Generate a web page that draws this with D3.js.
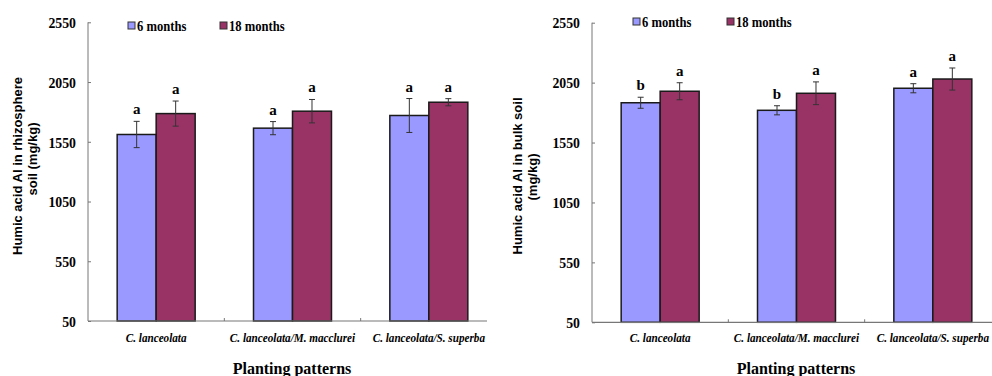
<!DOCTYPE html>
<html>
<head>
<meta charset="utf-8">
<script src="https://cdn.jsdelivr.net/npm/d3@7"></script>
<style>
  body { margin: 0; background: #fff; }
  svg { display: block; }
  .serif { font-family: "Liberation Serif", "Times New Roman", serif; }
  .sans { font-family: "Liberation Sans", Arial, sans-serif; }
</style>
</head>
<body>
<script>
// planting patterns on the x axis
var patterns = ["C. lanceolata", "C. lanceolata/M. macclurei", "C. lanceolata/S. superba"]
var seriesNames = ["6 months", "18 months"]
var yTicks = [50, 550, 1050, 1550, 2050, 2550]

// rhizosphere soil (left panel)
var rhizo6 = [1611, 1664, 1770]
var rhizo18 = [1786, 1806, 1881]
var rhizo6Err = [110, 55, 142]
var rhizo18Err = [105, 98, 30]
var rhizo6Sig = ["a", "a", "a"]
var rhizo18Sig = ["a", "a", "a"]

// bulk soil (right panel)
var bulk6 = [1882, 1819, 2003]
var bulk18 = [1978, 1961, 2080]
var bulk6Err = [46, 38, 38]
var bulk18Err = [71, 95, 92]
var bulk6Sig = ["b", "b", "a"]
var bulk18Sig = ["a", "a", "a"]

var colors = ["#9999ff", "#993366"]

var svg = d3.select("body").append("svg")
    .attr("width", 992)
    .attr("height", 376)

const drawPanel = function(opt) {
    var g = svg.append("g")

    var y = d3.scaleLinear().domain([50, 2550]).range([opt.bottom, opt.top])
    var x0 = d3.scaleBand().domain(patterns).range([opt.left, opt.right])
    var bw = x0.bandwidth()
    var x1 = d3.scaleBand().domain(seriesNames).range([bw * 0.214, bw * 0.786])

    // rows for bars
    var rows = []
    patterns.forEach(function(p, i) {
        rows.push({p: p, s: seriesNames[0], v: opt.v6[i], e: opt.e6[i], sig: opt.sig6[i], c: colors[0]})
        rows.push({p: p, s: seriesNames[1], v: opt.v18[i], e: opt.e18[i], sig: opt.sig18[i], c: colors[1]})
    })

    // bars
    g.selectAll("rect.bar").data(rows).enter().append("rect")
        .attr("class", "bar")
        .attr("x", d => x0(d.p) + x1(d.s))
        .attr("width", x1.bandwidth())
        .attr("y", d => y(d.v))
        .attr("height", d => y(50) - y(d.v))
        .attr("fill", d => d.c)
        .attr("stroke", "#1a1a1a")
        .attr("stroke-width", 1.5)

    // error bars
    var eb = g.selectAll("g.err").data(rows).enter().append("g")
        .attr("class", "err")
        .attr("transform", d => "translate(" + (x0(d.p) + x1(d.s) + x1.bandwidth() / 2) + ",0)")
        .attr("stroke", "#333")
        .attr("stroke-width", 1)
    eb.append("line").attr("y1", d => y(d.v + d.e)).attr("y2", d => y(d.v - d.e))
    eb.append("line").attr("x1", -3).attr("x2", 3).attr("y1", d => y(d.v + d.e)).attr("y2", d => y(d.v + d.e))
    eb.append("line").attr("x1", -3).attr("x2", 3).attr("y1", d => y(d.v - d.e)).attr("y2", d => y(d.v - d.e))

    // significance letters
    g.selectAll("text.sig").data(rows).enter().append("text")
        .attr("class", "sig serif")
        .attr("x", d => x0(d.p) + x1(d.s) + x1.bandwidth() / 2)
        .attr("y", d => y(d.v + d.e) - 7)
        .attr("text-anchor", "middle")
        .style("font-weight", "bold")
        .style("font-size", "15px")
        .text(d => d.sig)

    // y axis
    var yAxis = g.append("g")
        .attr("transform", "translate(" + opt.left + ",0)")
        .call(d3.axisRight(y).tickValues(yTicks).tickSize(3).tickFormat(d3.format("d")))
    yAxis.attr("font-family", null)
    yAxis.select(".domain").attr("stroke", "#777").attr("d", "M0," + opt.top + "V" + opt.bottom)
    yAxis.selectAll(".tick line").attr("stroke", "#777")
    yAxis.selectAll(".tick text")
        .attr("class", "serif")
        .attr("x", null)
        .attr("dy", "0.35em")
        .attr("text-anchor", "end")
        .attr("transform", "translate(-12,0) scale(0.92,1)")
        .style("font-weight", "bold")
        .style("font-size", "15px")
        .attr("fill", "#000")

    // x axis line with small inner ticks between categories
    g.append("line")
        .attr("x1", opt.left).attr("x2", opt.axisEnd)
        .attr("y1", y(50)).attr("y2", y(50))
        .attr("stroke", "#777").attr("stroke-width", 1.2)
    g.selectAll("line.xt").data(patterns.slice(1)).enter().append("line")
        .attr("class", "xt")
        .attr("x1", d => x0(d)).attr("x2", d => x0(d))
        .attr("y1", y(50)).attr("y2", y(50) - 3)
        .attr("stroke", "#777")

    // category labels, squeezed a little like the condensed original
    g.selectAll("text.cat").data(patterns).enter().append("text")
        .attr("class", "cat serif")
        .attr("text-anchor", "middle")
        .style("font-style", "italic")
        .style("font-weight", "bold")
        .style("font-size", "13px")
        .text(d => d)
        .attr("transform", function(d) {
            return "translate(" + (x0(d) + bw / 2) + ",342) scale(0.86,1)"
        })

    g.append("text")
        .attr("class", "serif")
        .attr("x", opt.left + 204)
        .attr("y", 374)
        .attr("text-anchor", "middle")
        .style("font-weight", "bold")
        .style("font-size", "16px")
        .text("Planting patterns")

    // y title, two lines
    opt.title.forEach(function(t, i) {
        g.append("text")
            .attr("class", "sans")
            .attr("transform", "translate(" + (opt.titleX + i * 15) + "," + opt.titleY[i] + ") rotate(-90)")
            .attr("text-anchor", "middle")
            .style("font-weight", "bold")
            .style("font-size", "13px")
            .text(t)
    })

    // legend
    var lg = g.selectAll("g.leg").data(seriesNames).enter().append("g")
        .attr("class", "leg")
        .attr("transform", (d, i) => "translate(" + opt.legX[i] + "," + opt.legY + ")")
    lg.append("rect")
        .attr("x", 0).attr("y", -4).attr("width", 7).attr("height", 7)
        .attr("fill", (d, i) => colors[i])
        .attr("stroke", "#333").attr("stroke-width", 1)
    lg.append("text")
        .attr("class", "serif")
        .attr("transform", "translate(9,5) scale(0.9,1)")
        .style("font-weight", "bold")
        .style("font-size", "14px")
        .text(d => d)
}

drawPanel({
    left: 88, right: 497, axisEnd: 487, top: 22.3, bottom: 321,
    v6: rhizo6, v18: rhizo18, e6: rhizo6Err, e18: rhizo18Err, sig6: rhizo6Sig, sig18: rhizo18Sig,
    title: ["Humic acid Al in rhizosphere", "soil (mg/kg)"], titleX: 22, titleY: [166, 159],
    legX: [128, 220], legY: 26
})

drawPanel({
    left: 592, right: 1001, axisEnd: 1001, top: 22.7, bottom: 322.3,
    v6: bulk6, v18: bulk18, e6: bulk6Err, e18: bulk18Err, sig6: bulk6Sig, sig18: bulk18Sig,
    title: ["Humic acid Al in bulk soil", "(mg/kg)"], titleX: 522, titleY: [176, 177],
    legX: [633, 727], legY: 22
})
</script>
</body>
</html>
